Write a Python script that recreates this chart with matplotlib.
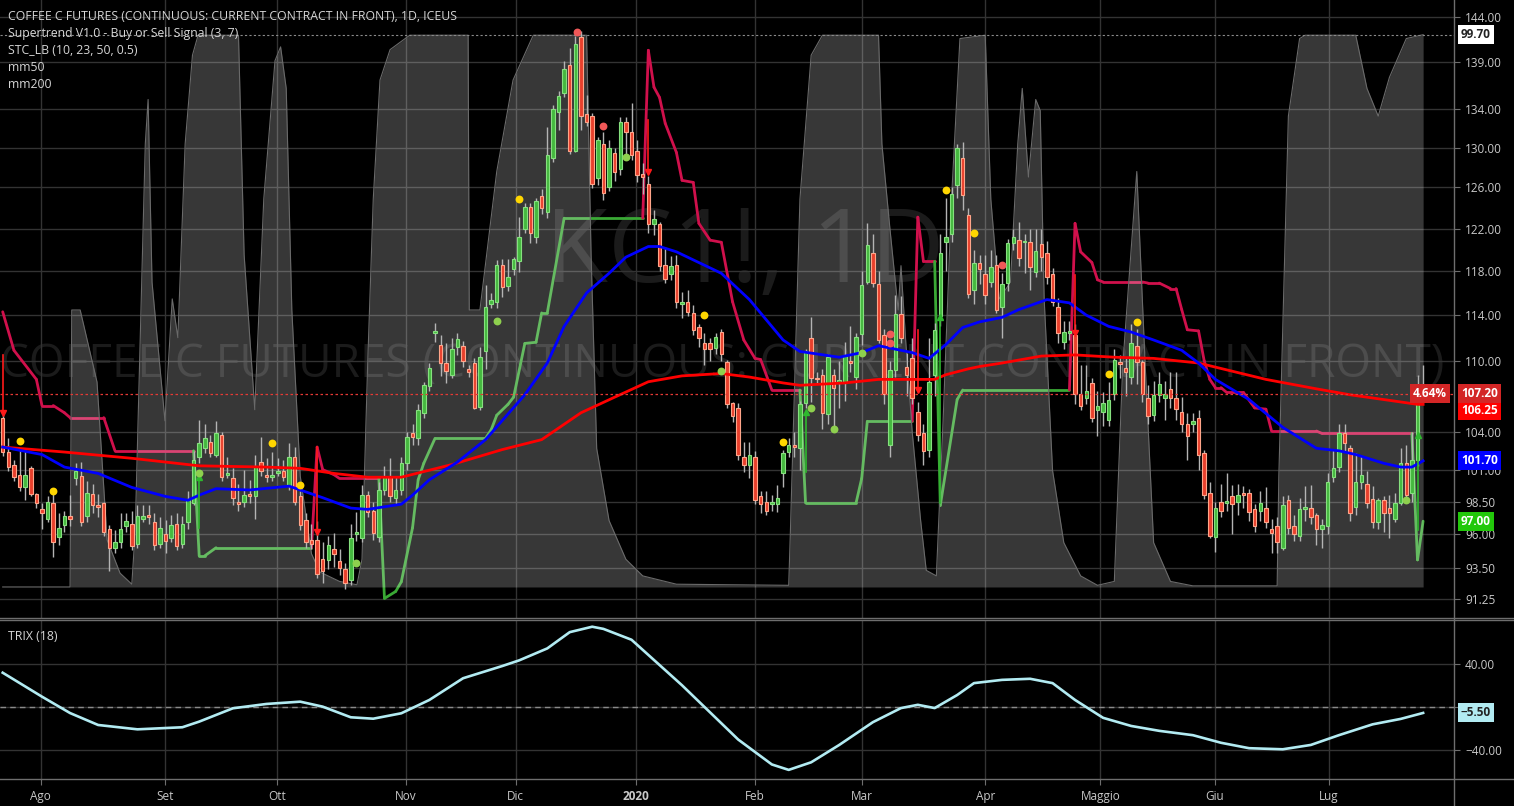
import matplotlib
matplotlib.use("Agg")
import matplotlib.pyplot as plt
import numpy as np
from matplotlib.lines import Line2D
from matplotlib.ticker import FixedLocator, NullLocator, FixedFormatter

plt.rcParams['font.family'] = ['Open Sans', 'DejaVu Sans']

# daily bars, index 0 = 23 Jul 2019
opens = [
    105.2, 102.4, 101.4, 100.6, 99.6, 101.1, 99.1, 97.9, 97.2, 98.4,
    95.8, 96.7, 97.4, 100.3, 100.5, 97.4, 99.1, 98.2, 98.4, 96.4,
    95.0, 95.4, 96.6, 96.8, 95.3, 97.2, 97.4, 96.9, 95.3, 96.0,
    95.7, 96.8, 95.3, 96.9, 98.4, 102.0, 102.7, 103.2, 102.2, 103.8,
    100.6, 100.3, 98.5, 98.5, 99.0, 98.9, 101.6, 100.6, 100.4, 100.7,
    100.9, 99.7, 102.0, 98.9, 97.1, 95.6, 95.6, 94.2, 94.1, 94.9,
    94.0, 93.4, 92.6, 96.0, 95.7, 99.0, 97.8, 95.8, 99.4, 100.4,
    98.8, 99.4, 101.5, 103.9, 103.5, 105.6, 107.8, 112.4, 111.4, 109.8,
    108.8, 111.2, 111.3, 109.3, 109.8, 106.1, 110.8, 115.0, 115.2, 118.6,
    116.6, 118.2, 118.9, 122.0, 124.1, 121.2, 125.2, 123.6, 128.9, 133.7,
    135.7, 138.7, 129.7, 141.8, 133.5, 133.3, 126.9, 130.4, 126.0, 129.4,
    127.8, 132.6, 131.6, 129.6, 127.3, 126.3, 122.4, 122.4, 118.6, 117.7,
    118.6, 115.0, 115.2, 114.2, 112.9, 111.5, 111.5, 111.1, 112.5, 109.9,
    106.4, 106.0, 102.0, 101.4, 102.0, 98.9, 98.5, 98.3, 98.3, 100.7,
    102.4, 102.9, 102.7, 106.4, 112.0, 108.5, 108.8, 105.5, 108.8, 108.2,
    108.1, 109.9, 108.6, 112.3, 117.0, 119.7, 116.8, 112.2, 103.0, 109.2,
    114.1, 109.5, 110.2, 105.7, 103.9, 102.6, 108.8, 113.9, 120.7, 121.5,
    126.2, 128.9, 123.3, 116.3, 118.8, 117.7, 117.0, 118.6, 114.7, 116.9,
    120.6, 120.9, 120.7, 120.7, 117.9, 120.5, 119.7, 117.7, 114.7, 111.6,
    112.4, 112.2, 107.2, 106.8, 108.1, 105.8, 105.7, 105.0, 107.2, 109.9,
    109.4, 108.6, 111.3, 109.9, 106.8, 105.4, 107.1, 106.8, 107.6, 106.8,
    105.7, 104.7, 104.7, 105.2, 102.3, 99.2, 95.8, 98.5, 98.4, 98.9,
    98.5, 99.2, 99.2, 97.9, 97.8, 98.0, 96.4, 96.6, 95.0, 98.6,
    96.6, 95.9, 97.9, 98.0, 97.5, 96.4, 96.6, 100.4, 101.2, 103.9,
    102.7, 98.1, 100.0, 99.9, 98.7, 96.9, 98.6, 98.0, 97.2, 98.4,
    101.5, 99.2, 101.8, 107.8]
highs = [
    105.6, 103.5, 101.8, 102.6, 102.7, 101.3, 99.2, 98.4, 98.9, 99.1,
    97.6, 97.8, 99.0, 101.5, 101.6, 100.1, 99.9, 99.1, 98.5, 96.7,
    96.3, 97.6, 97.6, 97.8, 98.2, 98.2, 98.2, 97.6, 97.3, 97.1,
    97.5, 97.6, 97.4, 99.3, 102.5, 105.0, 104.7, 103.8, 104.9, 104.0,
    102.0, 101.1, 99.9, 101.0, 100.2, 102.2, 103.6, 101.9, 102.4, 101.9,
    101.8, 103.1, 102.8, 99.3, 97.6, 96.8, 97.0, 95.4, 95.9, 96.1,
    94.9, 93.9, 96.8, 97.7, 99.8, 99.3, 98.5, 100.0, 101.3, 101.9,
    100.5, 102.0, 104.0, 104.7, 106.3, 108.2, 109.8, 113.3, 112.2, 111.5,
    112.0, 112.4, 111.7, 109.6, 110.2, 111.2, 116.7, 116.0, 119.0, 119.1,
    119.1, 119.3, 123.1, 124.5, 124.5, 125.0, 125.8, 132.1, 134.4, 135.9,
    139.1, 140.5, 141.9, 142.4, 135.5, 133.6, 131.1, 131.6, 130.8, 130.0,
    133.2, 133.2, 134.6, 130.8, 128.4, 127.1, 123.8, 122.6, 120.3, 119.4,
    119.5, 116.1, 116.3, 114.9, 113.2, 112.4, 112.0, 112.4, 112.8, 110.1,
    106.5, 106.4, 103.2, 103.2, 102.5, 99.3, 99.3, 99.0, 99.8, 102.6,
    103.5, 104.0, 106.6, 111.0, 113.8, 109.0, 109.3, 110.6, 109.3, 110.0,
    111.6, 113.0, 112.4, 118.0, 122.5, 121.5, 118.0, 112.8, 110.0, 115.8,
    115.7, 110.7, 112.0, 106.5, 104.7, 112.0, 113.3, 121.5, 125.0, 126.0,
    130.4, 130.6, 124.0, 120.0, 119.5, 119.5, 120.0, 119.5, 117.8, 121.0,
    122.0, 122.6, 121.5, 122.0, 122.0, 122.0, 120.8, 118.3, 115.5, 113.5,
    113.5, 113.2, 109.6, 109.6, 108.5, 107.4, 107.3, 108.2, 111.0, 110.5,
    110.2, 113.2, 112.8, 110.1, 107.9, 108.3, 109.0, 108.3, 109.0, 109.0,
    106.9, 105.6, 105.6, 105.8, 102.6, 100.0, 98.5, 99.9, 100.7, 99.8,
    99.9, 99.7, 99.5, 98.3, 99.3, 99.6, 97.2, 97.3, 98.9, 99.0,
    97.5, 98.8, 99.7, 99.8, 97.6, 97.2, 100.7, 102.6, 104.7, 104.7,
    103.0, 102.3, 102.2, 100.9, 99.7, 98.8, 98.9, 99.0, 99.2, 102.7,
    103.0, 104.0, 108.8, 109.6]
lows = [
    102.1, 100.9, 100.1, 99.3, 98.6, 98.9, 98.0, 96.4, 96.9, 94.3,
    95.2, 96.2, 96.6, 99.8, 96.6, 96.9, 97.6, 97.3, 95.9, 93.3,
    94.6, 95.0, 96.2, 94.8, 95.0, 96.9, 96.8, 94.8, 95.0, 94.6,
    95.4, 94.8, 95.0, 96.4, 98.2, 101.5, 102.3, 102.0, 102.0, 100.1,
    100.3, 98.2, 97.8, 98.1, 98.4, 97.2, 100.5, 100.0, 100.1, 100.5,
    100.1, 99.4, 98.2, 96.3, 95.0, 94.9, 92.8, 92.4, 93.4, 93.6,
    93.0, 92.0, 92.3, 95.5, 95.4, 97.3, 95.6, 95.4, 99.0, 98.5,
    98.2, 99.0, 101.0, 103.0, 103.0, 105.2, 107.4, 111.6, 108.7, 108.1,
    108.5, 110.5, 109.5, 108.6, 105.9, 105.8, 109.3, 114.6, 114.6, 115.6,
    116.2, 117.6, 117.9, 121.6, 120.6, 120.6, 123.4, 123.0, 128.5, 131.8,
    135.3, 129.3, 129.5, 131.8, 132.2, 125.9, 126.2, 124.8, 125.6, 126.6,
    127.2, 129.1, 128.7, 126.5, 125.4, 121.6, 121.4, 118.0, 116.9, 117.2,
    114.6, 113.7, 113.9, 112.2, 111.2, 109.6, 110.0, 110.6, 110.0, 106.0,
    104.8, 101.8, 100.8, 100.3, 98.3, 97.6, 97.5, 97.8, 97.7, 99.6,
    102.0, 102.0, 101.0, 106.0, 106.5, 108.0, 104.3, 104.7, 104.3, 106.0,
    106.6, 109.0, 107.6, 111.4, 116.8, 116.5, 111.5, 106.3, 102.0, 108.6,
    111.5, 107.0, 106.3, 103.3, 101.4, 102.0, 107.0, 113.0, 118.0, 120.7,
    125.0, 123.8, 115.5, 115.0, 116.8, 115.0, 116.5, 114.2, 112.0, 116.2,
    120.0, 118.5, 117.8, 116.3, 117.5, 118.0, 116.8, 114.8, 111.5, 111.0,
    111.8, 106.3, 105.8, 106.3, 104.8, 103.7, 104.5, 104.5, 106.7, 108.5,
    107.0, 108.0, 108.0, 106.5, 104.7, 104.9, 106.5, 105.0, 106.0, 105.0,
    104.0, 101.8, 104.0, 101.0, 98.7, 95.7, 94.7, 97.3, 97.8, 96.0,
    97.5, 98.0, 97.0, 96.2, 97.0, 96.5, 94.6, 94.6, 94.8, 96.0,
    95.5, 95.5, 97.0, 96.8, 95.2, 95.0, 96.0, 100.0, 100.8, 102.5,
    97.0, 97.5, 99.5, 98.0, 96.5, 96.4, 96.2, 95.7, 96.9, 98.2,
    98.7, 98.5, 101.3, 107.0]
closes = [
    102.4, 101.2, 100.4, 99.6, 100.6, 99.1, 98.4, 97.6, 98.5, 95.4,
    96.5, 97.4, 97.2, 100.9, 96.9, 99.2, 98.2, 98.1, 96.2, 95.0,
    95.4, 96.4, 97.0, 95.1, 97.4, 97.4, 97.3, 95.2, 96.5, 95.5,
    96.7, 95.1, 96.8, 98.7, 101.8, 103.1, 103.5, 102.3, 103.9, 100.4,
    100.7, 98.8, 98.3, 99.0, 98.9, 101.3, 100.9, 100.4, 100.6, 100.9,
    100.4, 102.0, 98.5, 96.7, 95.4, 95.3, 93.1, 93.3, 95.2, 94.5,
    93.5, 92.4, 95.7, 96.1, 99.0, 97.7, 96.1, 99.4, 100.4, 98.9,
    99.4, 101.5, 103.6, 103.6, 105.8, 107.9, 109.4, 112.6, 109.8, 109.1,
    111.0, 111.9, 110.0, 109.0, 106.0, 110.3, 114.7, 115.4, 118.6, 116.5,
    117.5, 119.1, 121.2, 124.1, 121.6, 124.7, 124.0, 129.2, 134.0, 135.4,
    138.3, 129.7, 141.0, 133.3, 132.6, 126.3, 130.8, 125.5, 130.0, 127.5,
    132.6, 131.6, 129.2, 127.2, 127.0, 122.4, 122.9, 118.5, 117.3, 118.5,
    115.2, 115.2, 114.3, 112.7, 112.0, 111.0, 111.0, 112.1, 110.6, 106.3,
    105.3, 102.2, 101.4, 102.2, 98.6, 98.3, 97.8, 98.5, 98.8, 102.3,
    103.0, 102.8, 106.3, 110.8, 108.5, 108.4, 105.6, 110.3, 107.7, 108.3,
    110.4, 109.8, 112.1, 116.7, 120.4, 116.9, 111.8, 107.2, 109.2, 114.1,
    112.0, 108.8, 106.8, 103.8, 102.5, 108.2, 112.7, 119.7, 121.2, 125.4,
    130.0, 125.3, 115.9, 118.8, 118.2, 115.8, 118.4, 114.5, 116.8, 120.6,
    121.2, 119.2, 120.8, 118.4, 119.9, 119.3, 117.5, 115.2, 112.4, 112.5,
    112.5, 107.2, 106.2, 107.4, 105.2, 106.2, 106.4, 106.7, 110.1, 109.7,
    109.0, 111.5, 109.9, 107.2, 105.3, 107.1, 108.0, 107.2, 106.8, 105.9,
    104.7, 103.7, 104.9, 102.2, 99.0, 95.9, 98.0, 97.8, 98.5, 98.3,
    99.0, 99.0, 97.7, 96.6, 98.4, 96.9, 96.1, 95.4, 98.2, 96.5,
    96.0, 97.9, 98.0, 97.3, 96.4, 96.7, 100.0, 101.1, 103.9, 103.1,
    97.6, 100.0, 100.6, 98.4, 96.9, 98.6, 97.6, 97.6, 98.4, 101.5,
    99.0, 101.8, 107.8, 107.2]

# moving averages (bar, value)
mm50_bars = [0, 7, 11, 17, 23, 29, 33, 35, 38, 44, 51, 53, 57, 62, 65, 71, 73, 76, 81, 86,
             93, 97, 100, 104, 108, 111, 115, 117, 120, 128, 133, 139, 142, 149, 153, 156,
             159, 162, 165, 168, 171, 174, 178, 181, 186, 190, 193, 197, 201, 205, 210,
             213, 216, 222, 228, 234, 238, 241, 246, 249, 251, 253]
mm50_vals = [102.8, 102.2, 101.2, 100.7, 99.6, 98.9, 98.6, 99.0, 99.5, 99.4, 99.7, 99.4,
             98.8, 98.0, 97.9, 98.3, 99.0, 100.2, 101.6, 103.4, 107.1, 109.8, 113.0, 116.0,
             117.8, 119.3, 120.3, 120.3, 119.8, 117.8, 115.4, 111.8, 110.8, 110.3, 110.7,
             111.3, 111.0, 110.7, 110.2, 111.4, 112.9, 113.4, 113.8, 114.5, 115.4, 115.1,
             114.0, 113.0, 112.5, 111.8, 110.9, 109.8, 108.4, 106.7, 104.4, 102.7, 102.5,
             102.2, 101.5, 101.2, 101.2, 101.7]
mm200_bars = [0, 11, 23, 35, 47, 53, 59, 65, 71, 80, 89, 96, 103, 109, 115, 121, 128, 133,
              139, 142, 150, 156, 162, 166, 168, 172, 174, 178, 185, 191, 198, 205, 213,
              225, 234, 240, 246, 252, 253]
mm200_vals = [102.8, 102.4, 101.9, 101.3, 101.2, 101.1, 100.7, 100.4, 100.4, 101.4, 102.6,
              103.4, 105.6, 106.9, 108.2, 108.7, 108.9, 108.6, 108.1, 107.9, 108.1, 108.4,
              108.4, 108.4, 108.8, 109.3, 109.5, 109.8, 110.4, 110.5, 110.3, 110.2, 109.8,
              108.4, 107.6, 107.1, 106.7, 106.3, 106.3]

# supertrend path (bar, value) and the bars where the trend flips
st_bars = [0, 2, 6, 7, 9, 11, 12, 18, 20, 34,
           35, 36, 38, 55,
           56, 57, 59, 60, 67,
           68, 70, 71, 73, 74, 75, 77, 86, 87, 88, 90, 91, 93, 95, 96, 97, 100, 114,
           115, 116, 117, 118, 120, 121, 123, 124, 126, 128, 130, 132, 134, 135, 137, 142,
           143, 152, 153, 154, 162,
           163, 164, 166,
           167, 170, 171, 190,
           191, 192, 194, 195, 196, 203, 204, 206, 208, 209, 210, 211, 213, 214, 215, 216,
           217, 218, 221, 223, 225, 226, 234, 235, 251,
           252, 253]
st_vals = [114.3, 110.9, 108.4, 106.2, 106.2, 105.6, 105.2, 105.2, 102.5, 102.5,
           94.4, 94.4, 95.0, 95.0,
           102.8, 101.0, 100.6, 100.3, 100.3,
           91.3, 91.8, 92.5, 96.5, 100.2, 101.5, 103.5, 103.5, 104.2, 105.4, 106.3, 106.9,
           111.5, 111.6, 114.2, 114.2, 123.0, 123.0,
           140.3, 136.3, 135.2, 132.5, 129.5, 126.7, 126.5, 122.5, 120.9, 120.7, 115.2,
           111.8, 110.2, 110.1, 107.5, 107.5,
           98.4, 98.4, 100.3, 104.9, 104.9,
           123.1, 118.9, 118.9,
           98.2, 106.7, 107.5, 107.5,
           122.5, 119.8, 118.8, 117.2, 117.0, 117.0, 116.9, 116.9, 116.4, 116.4, 114.5,
           112.7, 112.6, 110.0, 108.4, 107.7, 107.7, 107.3, 107.3, 106.0, 105.9, 104.1,
           104.1, 103.9, 103.9,
           94.1, 97.0]
st_up_starts = [35, 68, 143, 167, 252]
st_down_starts = [0, 56, 115, 163, 191]

sell_bars = [0, 56, 115, 163, 191]
sell_top = [110.5, 102.8, 132.8, 112.7, 117.6]
sell_tip = [105.6, 96.2, 127.5, 107.5, 112.4]
buy_bars = [35, 143, 167, 252]
buy_base = [96.5, 100.8, 98.4, 96.3]
buy_tip = [100.4, 105.7, 113.8, 103.8]

# STC_LB oscillator (0-100), (bar, value)
stc_bars = [0, 12, 12.3, 13.8, 16.8, 18.6, 20.9, 23,
            23.6, 25.4, 25.9, 26.6, 28.9, 30.2, 31.2, 32.5, 33.8, 34.8, 42, 43, 44.9, 46.5,
            48.5, 49.5, 50.5, 51.5, 53, 55, 56.5, 60, 63.1,
            64, 65, 66, 67.2, 69, 72.5, 82.9, 83.1, 85, 88, 90.9, 94.5, 104, 104.8, 105.8,
            108, 111, 114, 120,
            140, 140.3, 142, 144, 146, 156, 156.6, 158, 159.5, 160, 160.8, 162, 163.5, 164.5,
            166.3, 167.5, 169, 170.5, 175, 176, 177.5, 179.5, 180.8, 181.6, 182.7, 184,
            184.8, 185.5, 187, 189, 192, 195, 198, 199.5, 202, 203.5, 205, 208, 212, 227,
            227.3, 229, 231, 232, 241, 243, 245, 247, 250, 253]
stc_vals = [0, 0, 50, 50, 37, 8.5, 2.5, 0.5,
            10, 80, 88, 55, 30, 52, 45, 80, 96, 99.6, 99.6, 60, 32, 70,
            95, 97.5, 90, 50, 20, 6, 2.7, 1, 0.4,
            5, 40, 70, 91.5, 97, 99.6, 99.6, 50, 50, 75, 91.5, 99.6, 99.6, 60, 25,
            12, 5, 2, 0.5,
            0.3, 10, 70, 96, 99.6, 99.6, 80, 65, 50, 58, 45, 28, 12, 3,
            2, 30, 70, 99, 99.6, 70, 52, 55, 80, 90, 74, 88,
            86, 52, 21, 8, 2, 0.3, 1, 40, 75, 40, 8, 1, 0.2, 0.2,
            20, 85, 99, 99.6, 99.6, 90, 85, 92, 99, 99.7]

# TRIX(18), (bar, value)
trix_bars = [0, 7, 12, 17, 24, 32, 35, 41, 47, 53, 57, 62, 66, 71, 76, 82, 89, 92, 97, 101,
             105, 107, 112, 115, 121, 126, 131, 137, 140, 144, 149, 155, 160, 163, 166, 170,
             173, 178, 183, 187, 191, 196, 201, 206, 212, 217, 222, 228, 233, 238, 244, 249,
             253]
trix_vals = [31.6, 9.5, -5.6, -16.6, -20.6, -18.7, -13.5, -1.2, 2.8, 4.9, 0.3, -9.5, -10.8,
             -5.8, 6.5, 26.5, 37.8, 43, 54, 69, 74, 72, 62, 48, 20, -5, -30, -53, -58, -51,
             -35, -14, -1, 2, -1, 11, 22, 25, 26, 22, 6.5, -10, -17.5, -22, -26, -33, -38,
             -39, -35, -26, -16, -11, -5.5]

# signal dots
yellow_bars = [3, 9, 48, 53, 92, 125, 139, 168, 173, 197, 202]
yellow_vals = [103.3, 99.3, 103.1, 99.8, 124.9, 114.0, 103.2, 125.7, 121.6, 108.9, 113.4]
lime_bars = [35, 63, 88, 111, 128, 144, 148, 153, 250]
lime_vals = [100.7, 93.9, 113.5, 129.0, 109.1, 106.0, 104.3, 110.7, 98.6]
red_bars = [102.3, 107, 158, 158, 178]
red_vals = [142.3, 132.2, 112.3, 111.5, 118.6]

price_ticks = [91.25, 93.5, 96, 98.5, 101, 104, 110, 114, 118, 122, 126, 130, 134, 139, 144]
trix_ticks = [40, 0, -40]
month_pos = [6.8, 28.9, 48.9, 71.8, 91.4, 112.8, 134.0, 153.1, 175.0, 195.5, 215.9, 236.2]
month_labels = ["Ago", "Set", "Ott", "Nov", "Dic", "2020", "Feb", "Mar", "Apr", "Maggio",
                "Giu", "Lug"]

BG = 'black'
GRID = '#333333'
TXT = '#c8c8c8'
AXL = '#6e6e6e'
XL = (-0.48, 258.5)
PL = (89.91, 145.94)

fig = plt.figure(figsize=(15.14, 8.06), dpi=100, facecolor=BG)
ax = fig.add_axes([0, 0.23325, 0.96037, 0.76675], facecolor=BG)
ax.set_yscale('log')
ax.set_ylim(*PL)
ax.set_xlim(*XL)
ax.grid(True, color=GRID, lw=1)
for s in ax.spines.values():
    s.set_visible(False)

# watermarks
ax.text(0.512, 0.587, "KC1!, 1D", transform=ax.transAxes, ha='center', va='center',
        fontsize=74, color='#1b1b1b', zorder=0)
ax.text(0.497, 0.41, "COFFEE C FUTURES (CONTINUOUS: CURRENT CONTRACT IN FRONT)",
        transform=ax.transAxes, ha='center', va='center', fontsize=33, color='#1b1b1b',
        zorder=0)

# supertrend (coloured by trend at the end of each segment)
flips = sorted([(b, -1) for b in st_down_starts] + [(b, 1) for b in st_up_starts])
def trend_at(b):
    d = -1
    for fb, fd in flips:
        if b >= fb:
            d = fd
    return d
for i in range(1, len(st_bars)):
    d = trend_at(st_bars[i])
    ax.plot(st_bars[i - 1:i + 1], st_vals[i - 1:i + 1],
            color='#d0104c' if d < 0 else '#3aa935', lw=2, solid_capstyle='round',
            zorder=2)

# STC layer
ax2 = ax.twinx()
ax2.set_ylim(-5.6, 105.96)
ax2.set_xlim(*XL)
ax2.set_yticks([])
for s in ax2.spines.values():
    s.set_visible(False)
ax2.fill_between(stc_bars, 0, stc_vals, color='white', alpha=0.22, lw=0)
ax2.plot(stc_bars, stc_vals, color='#6a6a6a', lw=0.8)
ax2.axhline(99.7, color='#8a8a8a', lw=0.8, ls=(0, (2, 2)))

# price layer
ax3 = ax.twinx()
ax3.set_yscale('log')
ax3.set_ylim(*PL)
ax3.set_xlim(*XL)
ax3.yaxis.set_major_locator(NullLocator())
ax3.yaxis.set_minor_locator(NullLocator())
for s in ax3.spines.values():
    s.set_visible(False)

# price scale on the right (after twinx, which moves it left)
ax.yaxis.tick_right()
ax.yaxis.set_major_locator(FixedLocator(price_ticks))
ax.yaxis.set_major_formatter(FixedFormatter(['%.2f' % t for t in price_ticks]))
ax.yaxis.set_minor_locator(NullLocator())
ax.set_xticks(month_pos)
ax.tick_params(axis='x', length=0, labelbottom=False)
ax.tick_params(axis='y', colors=AXL, labelcolor=TXT, labelsize=8.5, length=4, pad=4)

o = np.array(opens)
h = np.array(highs)
l = np.array(lows)
c = np.array(closes)
x = np.arange(len(c))
up = c >= o
lo = np.minimum(o, c)
hgt = np.maximum(np.abs(c - o), 0.15)
ax3.vlines(x, l, h, color='#b4b4b4', lw=1, zorder=3)
ax3.bar(x[up], hgt[up], bottom=lo[up], width=0.62, color='#45b83f', edgecolor='#86e07f',
        lw=0.8, zorder=4)
ax3.bar(x[~up], hgt[~up], bottom=lo[~up], width=0.62, color='#e8402c', edgecolor='#ffa58a',
        lw=0.8, zorder=4)

ax3.plot(mm200_bars, mm200_vals, color='#ff0000', lw=2, zorder=5)
ax3.plot(mm50_bars, mm50_vals, color='#0000ff', lw=2, zorder=5)
ax3.axhline(closes[-1], color='#e53935', lw=0.9, ls=(0, (2, 2)), zorder=5)

for b, t, p in zip(sell_bars, sell_top, sell_tip):
    ax3.plot([b, b], [t, p], color='#ff1a1a', lw=1.2, zorder=6)
    ax3.plot(b, p, marker='v', color='#ff1a1a', ms=4, zorder=6)
for b, t, p in zip(buy_bars, buy_base, buy_tip):
    ax3.plot([b, b], [t, p], color='#2eb82e', lw=1.2, zorder=6)
    ax3.plot(b, p, marker='^', color='#2eb82e', ms=4, zorder=6)

ax3.scatter(yellow_bars, yellow_vals, s=32, color='#ffd600', zorder=7, lw=0)
ax3.scatter(lime_bars, lime_vals, s=32, color='#8ed04e', zorder=7, lw=0)
ax3.scatter(red_bars, red_vals, s=32, color='#f05858', zorder=7, lw=0)

# TRIX panel
tx = fig.add_axes([0, 0.0335, 0.96037, 0.19727], facecolor=BG)
tx.set_xlim(*XL)
tx.set_ylim(-66.4, 80.2)
tx.plot(trix_bars, trix_vals, color='#b2ebf2', lw=1.9, zorder=3)
tx.axhline(0, color='#8a8a8a', lw=1, ls=(0, (4, 3)), zorder=2)
tx.yaxis.tick_right()
tx.set_yticks(trix_ticks)
tx.set_yticklabels(['40.00', '0.00', '\u221240.00'])
tx.set_xticks(month_pos)
tx.set_xticklabels(month_labels)
for lab in tx.get_xticklabels():
    if lab.get_text() == '2020':
        lab.set_fontweight('bold')
tx.tick_params(axis='both', colors=AXL, labelcolor=TXT, labelsize=8.5, length=4, pad=4)
tx.grid(True, color=GRID, lw=1)
for s in tx.spines.values():
    s.set_visible(False)

# panel separators and the scale line, full width as in the app
for yy in [1 - 618 / 806, 1 - 620 / 806, 1 - 779 / 806]:
    fig.add_artist(Line2D([0, 1], [yy, yy], transform=fig.transFigure, color=AXL, lw=1))
fig.add_artist(Line2D([1454 / 1514, 1454 / 1514], [0, 1], transform=fig.transFigure,
                      color=AXL, lw=1))

# legend texts
legend = ["Supertrend V1.0 - Buy or Sell Signal (3, 7)", "STC_LB (10, 23, 50, 0.5)",
          "mm50", "mm200"]
fig.text(8 / 1514, 1 - 16 / 806,
         "COFFEE C FUTURES (CONTINUOUS: CURRENT CONTRACT IN FRONT), 1D, ICEUS",
         color='#d6d6d6', fontsize=8.8, va='center', ha='left')
for k, t in enumerate(legend):
    fig.text(8 / 1514, 1 - (34 + 16.8 * k) / 806, t, color='#d6d6d6', fontsize=8.8,
             va='center', ha='left')
fig.text(8 / 1514, 1 - 636 / 806, "TRIX (18)", color='#d6d6d6', fontsize=8.8,
         va='center', ha='left')

# value tags on the scale
def tag(axis, val, text, fc, tc, side='right', dy=0):
    if side == 'right':
        off, ha = (5, dy), 'left'
    else:
        off, ha = (-5, dy), 'right'
    axis.annotate(text, xy=(1, val), xycoords=axis.get_yaxis_transform(),
                  xytext=off, textcoords='offset points', ha=ha, va='center',
                  fontsize=8.5, color=tc, fontweight='bold', zorder=20,
                  annotation_clip=False,
                  bbox=dict(boxstyle='square,pad=0.25', fc=fc, ec='none'))

tag(ax2, 99.7, "99.70", 'white', '#222222')
tag(ax3, mm200_vals[-1], "106.25", '#ff0000', 'white', dy=-4.5)
tag(ax3, closes[-1], "%.2f" % closes[-1], '#d32626', 'white')
tag(ax3, closes[-1], "4.64%", '#d32626', 'white', side='left')
tag(ax3, mm50_vals[-1], "%.2f" % mm50_vals[-1], '#0000ff', 'white')
tag(ax3, st_vals[-1], "%.2f" % st_vals[-1], '#22c80a', 'white')
tag(tx, trix_vals[-1], "\u22125.50", '#b2ebf2', '#222222')

fig.savefig("out.png", dpi=100, facecolor=BG)
